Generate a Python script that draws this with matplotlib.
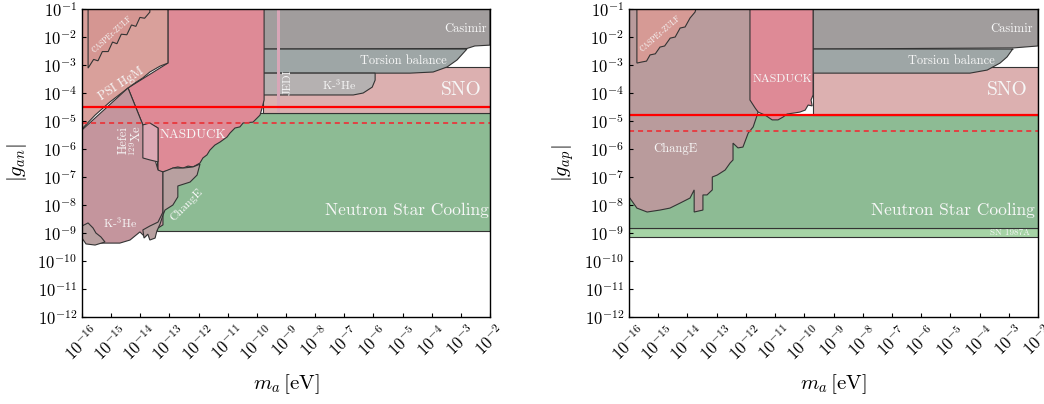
import numpy as np
import matplotlib.pyplot as plt

plt.rcParams["font.family"] = "serif"
plt.rcParams["font.serif"] = ["cmr10", "DejaVu Serif"]
plt.rcParams["mathtext.fontset"] = "cm"
plt.rcParams["axes.formatter.use_mathtext"] = True
plt.rcParams["axes.unicode_minus"] = False

# all limits are stored as log10 values: m_a in eV, g dimensionless
XLIM = (-16, -2)
YLIM = (-12, -1)

# ---------------- neutron coupling g_an ----------------
an_cooling_m = [-13.43, -2, -2, -13.43]
an_cooling_g = [-8.93, -8.93, -4.71, -4.71]

an_sno_m = [-9.8, -2, -2, -9.8]
an_sno_g = [-4.71, -4.71, -3.07, -3.07]

an_casimir_m = [-9.78, -2, -2, -2.52, -2.79, -9.78]
an_casimir_g = [-1, -1, -2.29, -2.32, -2.41, -2.43]

an_torsion_m = [-9.78, -2.79, -3.13, -3.47, -3.95, -4.74, -9.78]
an_torsion_g = [-2.43, -2.43, -2.82, -3.07, -3.25, -3.29, -3.29]

an_k3he_gray_m = [-9.78, -5.94, -5.94, -6.04, -6.35, -6.69, -9.78]
an_k3he_gray_g = [-3.29, -3.29, -3.54, -3.79, -4.0, -4.07, -4.07]

an_jedi_m = [-9.31, -9.21, -9.21, -9.31]
an_jedi_g = [-4.68, -4.68, -1, -1]

an_nasduck_m = [-13.05, -9.75, -9.75, -9.82, -9.89, -10.13, -10.47, -10.58, -10.75,
                -10.92, -11.02, -11.26, -11.44, -11.61, -11.71, -11.85, -11.95, -12.19,
                -12.36, -12.53, -12.71, -12.88, -13.08, -13.32, -13.39, -13.39, -13.67,
                -13.91, -14.42, -13.05]
an_nasduck_g = [-1, -1, -4.25, -4.54, -4.79, -5.04, -5.07, -5.21, -5.25,
                -5.43, -5.57, -5.75, -5.86, -6.04, -6.21, -6.32, -6.5, -6.64,
                -6.61, -6.68, -6.64, -6.68, -6.79, -6.82, -6.79, -5.25, -5.11,
                -5.14, -3.82, -2.93]

an_psi_m = [-16, -13.05, -13.05, -13.32, -13.67, -13.91, -14.18, -14.42, -15.04, -15.55, -15.97, -16]
an_psi_g = [-1, -1, -2.93, -3.04, -3.25, -3.46, -3.64, -3.82, -4.32, -4.79, -5.25, -5.25]

an_casper_m = [-15.79, -15.79, -15.6, -15.45, -15.3, -15.1, -14.95, -14.8, -14.65,
               -14.46, -14.3, -14.15, -14.01, -13.85, -13.67, -13.67]
an_casper_g = [-1, -3.11, -2.80, -2.85, -2.52, -2.52, -2.18, -2.24, -1.90,
               -1.92, -1.57, -1.62, -1.30, -1.33, -1.11, -1]

an_k3he_m = [-16, -14.42, -13.91, -13.67, -13.49, -13.39, -13.22, -13.22, -13.39, -13.67,
             -13.84, -14.01, -14.35, -14.7, -15.38, -15.73, -15.9, -16]
an_k3he_g = [-5.32, -3.82, -5.14, -5.68, -6.39, -6.75, -6.82, -8.71, -8.82, -8.96,
             -9.14, -8.96, -9.25, -9.36, -9.36, -9.32, -9.07, -8.82]

an_k3he_tail_m = [-16, -15.79, -15.62, -15.52, -15.35, -15.21, -15.55, -15.86, -16]
an_k3he_tail_g = [-8.75, -8.64, -8.82, -9.0, -9.14, -9.32, -9.43, -9.39, -9.18]

an_hefei_m = [-13.91, -13.67, -13.39, -13.39, -13.67, -13.91]
an_hefei_g = [-5.14, -5.07, -5.25, -6.46, -6.39, -6.32]

an_change_m = [-13.22, -12.88, -12.53, -12.19, -11.95, -12.05, -12.29, -12.71, -12.71,
               -12.88, -13.15, -13.22, -13.32, -13.43, -13.49, -13.67, -13.74, -13.87,
               -13.91, -13.67, -13.39, -13.22]
an_change_g = [-6.82, -6.68, -6.68, -6.64, -6.54, -6.93, -7.18, -7.32, -7.71,
               -8.0, -8.18, -8.36, -8.68, -8.93, -9.18, -9.25, -9.04, -9.18,
               -8.89, -8.75, -8.61, -8.25]

an_limit_solid = -4.5
an_limit_dashed = -5.07

# ---------------- proton coupling g_ap ----------------
ap_sn1987a_m = [-16, -2, -2, -16]
ap_sn1987a_g = [-9.14, -9.14, -8.82, -8.82]

ap_cooling_m = [-16, -2, -2, -16]
ap_cooling_g = [-8.82, -8.82, -4.8, -4.8]

ap_sno_m = [-9.7, -2, -2, -9.7]
ap_sno_g = [-4.8, -4.8, -3.07, -3.07]

ap_casimir_m = [-9.7, -2, -2, -2.85, -9.7]
ap_casimir_g = [-1, -1, -2.32, -2.39, -2.43]

ap_torsion_m = [-9.7, -2.85, -2.89, -3.06, -3.3, -3.74, -4.33, -9.7]
ap_torsion_g = [-2.43, -2.43, -2.46, -2.71, -2.93, -3.18, -3.29, -3.29]

ap_change_m = [-16, -11.58, -11.58, -11.75, -11.92, -12.1, -12.27, -12.44, -12.44, -12.54,
               -12.71, -12.98, -13.15, -13.15, -13.33, -13.47, -13.47, -13.77, -13.77,
               -13.91, -14.25, -14.6, -14.94, -15.38, -15.73, -16]
ap_change_g = [-1, -1, -4.68, -5.21, -5.43, -5.93, -5.96, -5.79, -6.39, -6.5,
               -6.75, -6.93, -7.0, -7.46, -7.64, -7.64, -8.18, -8.25, -7.46,
               -7.75, -7.93, -8.11, -8.18, -8.25, -8.11, -7.71]

ap_nasduck_m = [-11.86, -9.7, -9.7, -9.77, -9.73, -9.87, -9.97, -10.15, -10.32, -10.59,
                -10.73, -10.9, -11.1, -11.34, -11.52, -11.58, -11.68, -11.86]
ap_nasduck_g = [-1, -1, -4.07, -4.25, -4.46, -4.43, -4.61, -4.68, -4.71, -4.75,
                -4.86, -4.96, -4.96, -4.79, -4.71, -4.68, -4.54, -4.25]

ap_casper_m = [-15.73, -15.73, -15.55, -15.4, -15.28, -15.1, -14.94, -14.78, -14.59,
               -14.42, -14.25, -14.08, -13.91, -13.74, -13.71]
ap_casper_g = [-1, -2.93, -2.89, -2.86, -2.64, -2.60, -2.36, -2.32, -2.04,
               -2.00, -1.68, -1.64, -1.32, -1.11, -1]

ap_limit_solid = -4.79
ap_limit_dashed = -5.36

EDGE = "#333333"


def region(ax, logm, logg, color):
    ax.fill(10.0 ** np.asarray(logm), 10.0 ** np.asarray(logg),
            facecolor=color, edgecolor=EDGE, lw=0.8)


def label(ax, logm, logg, text, size, **kw):
    ax.text(10.0 ** logm, 10.0 ** logg, text, fontsize=size, color="#f7f7f7", **kw)


def setup_axes(ax, ylabel):
    ax.set_xscale("log")
    ax.set_yscale("log")
    ax.set_xlim(10.0 ** XLIM[0], 10.0 ** XLIM[1])
    ax.set_ylim(10.0 ** YLIM[0], 10.0 ** YLIM[1])
    ax.set_xticks(10.0 ** np.arange(XLIM[0], XLIM[1] + 1))
    ax.set_yticks(10.0 ** np.arange(YLIM[0], YLIM[1] + 1))
    ax.minorticks_off()
    ax.tick_params(direction="in", length=3, width=0.8, labelsize=12)
    for lab in ax.get_xticklabels():
        lab.set_rotation(45)
        lab.set_ha("center")
    for sp in ax.spines.values():
        sp.set_linewidth(1.0)
        sp.set_zorder(10)
    ax.set_xlabel(r"$m_a\,[\mathrm{eV}]$", fontsize=15)
    ax.set_ylabel(ylabel, fontsize=15)
    ax.xaxis.set_label_coords(0.5, -0.18)
    ax.yaxis.set_label_coords(-0.13, 0.5)


def limit_lines(ax, solid, dashed):
    ax.axhline(10.0 ** solid, color="#ff0000", lw=1.6, zorder=5)
    ax.axhline(10.0 ** dashed, color="#e8383d", lw=1.3, ls=(0, (2.8, 2.2)), zorder=5)


fig = plt.figure(figsize=(10.44, 4.04), dpi=100)
ax1 = fig.add_axes([0.0785, 0.2153, 0.3908, 0.7624])
ax2 = fig.add_axes([0.6025, 0.2153, 0.3918, 0.7624])

# left panel
region(ax1, an_cooling_m, an_cooling_g, "#8dbb94")
region(ax1, an_sno_m, an_sno_g, "#dcb0b0")
region(ax1, an_casimir_m, an_casimir_g, "#a19d9d")
region(ax1, an_torsion_m, an_torsion_g, "#9ea6a6")
region(ax1, an_k3he_gray_m, an_k3he_gray_g, "#b5b1b1")
ax1.fill(10.0 ** np.asarray(an_jedi_m), 10.0 ** np.asarray(an_jedi_g),
         facecolor="#d8a6b7", edgecolor="none")
region(ax1, an_nasduck_m, an_nasduck_g, "#de8a96")
region(ax1, an_psi_m, an_psi_g, "#d9a09b")
region(ax1, an_casper_m, an_casper_g, "#d59692")
region(ax1, an_k3he_m, an_k3he_g, "#c4959d")
region(ax1, an_k3he_tail_m, an_k3he_tail_g, "#b8a0a0")
region(ax1, an_hefei_m, an_hefei_g, "#dca8b4")
region(ax1, an_change_m, an_change_g, "#b8a0a0")
limit_lines(ax1, an_limit_solid, an_limit_dashed)

label(ax1, -2.1, -1.71, "Casimir", 9, ha="right", va="center")
label(ax1, -3.47, -2.86, "Torsion balance", 9, ha="right", va="center")
label(ax1, -2.3, -3.89, "SNO", 14, ha="right", va="center")
label(ax1, -2.05, -8.18, "Neutron Star Cooling", 12.5, ha="right", va="center")
label(ax1, -12.2, -5.5, "NASDUCK", 9.5, ha="center", va="center")
label(ax1, -7.18, -3.71, r"K-$^3$He", 8.5, ha="center", va="center")
label(ax1, -8.95, -3.61, "JEDI", 8, ha="center", va="center", rotation=90)
label(ax1, -14.32, -5.68, "Hefei\n$^{129}$Xe", 9, ha="center", va="center",
      rotation=90, multialignment="center", linespacing=0.9)
label(ax1, -14.7, -8.61, r"K-$^3$He", 8.5, ha="center", va="center")
label(ax1, -12.4, -8.0, "ChangE", 8.5, ha="center", va="center", rotation=45)
label(ax1, -14.66, -3.68, "PSI HgM", 9, ha="center", va="center", rotation=33)
label(ax1, -14.97, -1.89, "CASPEr-ZULF", 5.5, ha="center", va="center", rotation=42)
setup_axes(ax1, r"$|g_{an}|$")

# right panel
region(ax2, ap_sn1987a_m, ap_sn1987a_g, "#a6d4a6")
region(ax2, ap_cooling_m, ap_cooling_g, "#8dbb94")
region(ax2, ap_sno_m, ap_sno_g, "#dcb0b0")
region(ax2, ap_casimir_m, ap_casimir_g, "#a19d9d")
region(ax2, ap_torsion_m, ap_torsion_g, "#9ea6a6")
region(ax2, ap_change_m, ap_change_g, "#b99b9c")
region(ax2, ap_nasduck_m, ap_nasduck_g, "#de8a96")
region(ax2, ap_casper_m, ap_casper_g, "#d69a95")
limit_lines(ax2, ap_limit_solid, ap_limit_dashed)

label(ax2, -2.17, -1.71, "Casimir", 9, ha="right", va="center")
label(ax2, -3.47, -2.86, "Torsion balance", 9, ha="right", va="center")
label(ax2, -2.34, -3.89, "SNO", 14, ha="right", va="center")
label(ax2, -2.1, -8.18, "Neutron Star Cooling", 12.5, ha="right", va="center")
label(ax2, -2.27, -9.0, "SN 1987A", 6.5, ha="right", va="center")
label(ax2, -10.76, -3.5, "NASDUCK", 8.5, ha="center", va="center")
label(ax2, -14.43, -6.0, "ChangE", 9, ha="center", va="center")
label(ax2, -14.94, -1.89, "CASPEr-ZULF", 5.5, ha="center", va="center", rotation=41)
setup_axes(ax2, r"$|g_{ap}|$")

fig.savefig("out.png", dpi=100)
